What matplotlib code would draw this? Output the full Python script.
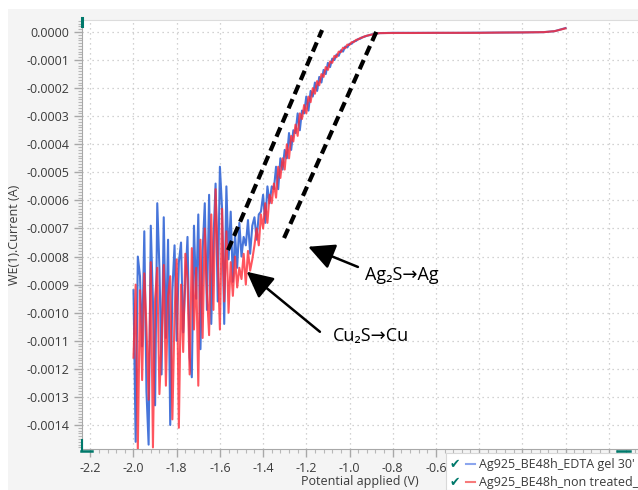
import numpy as np
import matplotlib
matplotlib.use("Agg")
import matplotlib.pyplot as plt
from matplotlib.lines import Line2D
from matplotlib.patches import Rectangle
from matplotlib.ticker import MultipleLocator, FormatStrFormatter, FuncFormatter

plt.rcParams['font.family'] = ['Open Sans', 'DejaVu Sans']
plt.rcParams['axes.unicode_minus'] = False

# Potential (V) at which the current was sampled
potential = [
    -2.00, -1.99, -1.98, -1.97, -1.96, -1.95, -1.94, -1.93, -1.92, -1.91,
    -1.90, -1.89, -1.88, -1.87, -1.86, -1.85, -1.84, -1.83, -1.82, -1.81,
    -1.80, -1.79, -1.78, -1.77, -1.76, -1.75, -1.74, -1.73, -1.72, -1.71,
    -1.70, -1.69, -1.68, -1.67, -1.66, -1.65, -1.64, -1.63, -1.62, -1.61,
    -1.60, -1.59, -1.58, -1.57, -1.56, -1.55, -1.54, -1.53, -1.52, -1.51,
    -1.50, -1.49, -1.48, -1.47, -1.46, -1.45, -1.44, -1.43, -1.42, -1.41,
    -1.40, -1.39, -1.38, -1.37, -1.36, -1.35, -1.34, -1.33, -1.32, -1.31,
    -1.30, -1.29, -1.28, -1.27, -1.26, -1.25, -1.24, -1.23, -1.22, -1.21,
    -1.20, -1.19, -1.18, -1.17, -1.16, -1.15, -1.14, -1.13, -1.12, -1.11,
    -1.10, -1.09, -1.08, -1.07, -1.06, -1.05, -1.04, -1.03, -1.02, -1.01,
    -1.00, -0.99, -0.98, -0.97, -0.96, -0.95, -0.94, -0.93, -0.92, -0.91,
    -0.90, -0.89, -0.88, -0.87, -0.86,
    -0.80, -0.70, -0.60, -0.50, -0.40, -0.30, -0.20, -0.10, -0.05, 0.00,
]

# Current in units of 1e-4 A
current_edta = [
    -9.2, -14.6, -8.0, -8.7, -11.2, -7.1, -12.8, -14.7, -6.9, -9.6,
    -13.3, -6.1, -8.4, -12.2, -6.6, -10.9, -7.4, -14.0, -9.2, -7.6,
    -11.0, -8.2, -7.5, -10.7, -8.9, -7.3, -11.6, -12.3, -6.9, -9.5,
    -6.5, -11.3, -7.8, -6.1, -9.9, -5.8, -10.4, -7.4, -5.4, -9.6,
    -4.8, -6.3, -10.4, -5.5, -8.1, -6.4, -8.9, -7.2, -8.4, -6.8,
    -8.0, -7.3, -7.6, -6.7, -7.9, -6.9, -6.6, -7.4, -6.5, -6.4,
    -5.8, -6.8, -5.5, -6.1, -5.5, -5.6, -4.8, -5.6, -4.5, -4.9,
    -4.2, -4.5, -3.6, -4.2, -3.5, -3.6, -2.9, -3.5, -2.8, -2.9,
    -2.3, -2.8, -2.1, -2.3, -1.8, -2.1, -1.6, -1.8, -1.35, -1.5,
    -1.1, -1.25, -0.95, -1.0, -0.8, -0.85, -0.65, -0.7, -0.52, -0.55,
    -0.42, -0.42, -0.33, -0.32, -0.25, -0.24, -0.18, -0.17, -0.13, -0.12,
    -0.09, -0.08, -0.06, -0.05, -0.04,
    -0.03, -0.03, -0.03, -0.03, -0.025, -0.02, -0.015, -0.005, 0.03, 0.14,
]

current_non_treated = [
    -11.6, -9.0, -14.9, -9.2, -12.4, -8.6, -10.5, -13.1, -8.2, -14.8,
    -9.5, -8.4, -12.9, -11.0, -8.3, -12.6, -9.4, -8.7, -13.8, -10.1,
    -8.1, -14.1, -9.0, -11.4, -7.9, -8.8, -12.2, -7.7, -10.6, -8.4,
    -12.6, -7.4, -10.9, -7.0, -9.3, -10.8, -6.5, -9.9, -5.6, -8.0,
    -10.6, -6.3, -9.6, -7.1, -10.0, -8.2, -9.4, -8.0, -9.1, -8.4,
    -8.8, -7.9, -9.0, -7.8, -8.5, -8.1, -7.6, -7.0, -7.6, -6.5,
    -7.0, -6.1, -6.8, -5.8, -6.1, -5.4, -5.9, -4.8, -5.2, -4.5,
    -4.9, -4.0, -4.5, -3.7, -3.9, -3.3, -3.7, -2.9, -3.1, -2.6,
    -2.9, -2.3, -2.5, -2.0, -2.2, -1.75, -1.9, -1.5, -1.6, -1.25,
    -1.35, -1.05, -1.1, -0.85, -0.9, -0.7, -0.72, -0.56, -0.58, -0.45,
    -0.46, -0.36, -0.36, -0.28, -0.27, -0.21, -0.2, -0.15, -0.14, -0.11,
    -0.1, -0.08, -0.07, -0.05, -0.04,
    -0.035, -0.035, -0.03, -0.03, -0.03, -0.02, -0.015, -0.005, 0.03, 0.13,
]

series_labels = ["Ag925_BE48h_EDTA gel 30'", "Ag925_BE48h_non treated_"]

# guide lines (V, A)
guide_1 = ([-1.5625, -1.127], [-7.77e-4, 0.07e-4])
guide_2 = ([-1.303, -0.868], [-7.34e-4, 0.14e-4])

x = np.array(potential)
y_edta = np.array(current_edta) * 1e-4
y_non = np.array(current_non_treated) * 1e-4

fig = plt.figure(figsize=(6.38, 4.90), dpi=100, facecolor='white')
fig.add_artist(Rectangle((8 / 638, 0), 1, (490 - 9) / 490, transform=fig.transFigure,
                         facecolor='#f4f4f4', edgecolor='none', zorder=-10))

ax = fig.add_axes([82 / 638, 41 / 490, 1 - 82 / 638, (449 - 20) / 490])
ax.set_facecolor('white')

ax.plot(x, y_edta, color='#3366d6', lw=1.5, alpha=0.9, zorder=3)
ax.plot(x, y_non, color='#ff2a36', lw=1.5, alpha=0.8, zorder=4)

ax.plot(*guide_1, color='black', lw=3, linestyle=(0, (2.4, 1.3)), zorder=5)
ax.plot(*guide_2, color='black', lw=3, linestyle=(0, (2.4, 1.3)), zorder=5)

arrow = dict(arrowstyle='-|>,head_length=0.8,head_width=0.4', lw=1.8,
             color='black', mutation_scale=20, shrinkA=0, shrinkB=0)
ax.annotate('', xy=(-1.191, -7.65e-4), xytext=(-0.961, -8.37e-4), arrowprops=arrow, zorder=6)
ax.annotate('', xy=(-1.476, -8.54e-4), xytext=(-1.137, -1.068e-3), arrowprops=arrow, zorder=6)
ax.text(-0.928, -8.66e-4, 'Ag₂S→Ag', fontsize=13, va='center', ha='left', color='black')
ax.text(-1.076, -1.083e-3, 'Cu₂S→Cu', fontsize=13, va='center', ha='left', color='black')

ax.set_xlim(-2.0 - 51.5 / 216, -2.0 + (638 - 133.5) / 216)
ax.set_ylim(-(449 - 32) / 280.7 * 1e-3, (32 - 20) / 280.7 * 1e-3)

ax.xaxis.set_major_locator(MultipleLocator(0.2))
ax.xaxis.set_minor_locator(MultipleLocator(0.04))
ax.yaxis.set_major_locator(MultipleLocator(0.0001))
ax.yaxis.set_minor_locator(MultipleLocator(0.00001))
# labels to the right of -0.6 sit under the legend panel
ax.xaxis.set_major_formatter(FuncFormatter(lambda v, p: f'{v:.1f}' if v < -0.5 else ''))
ax.yaxis.set_major_formatter(FormatStrFormatter('%.4f'))

ax.tick_params(which='major', length=6, width=1, color='#a8a8a8', labelsize=9,
               labelcolor='#3a3a3a', pad=3)
ax.tick_params(which='minor', length=3, width=0.8, color='#b8b8b8')
ax.grid(True, which='major', linestyle=(0, (1, 3)), color='#c4c4c4', lw=0.9)

ax.spines['right'].set_visible(False)
ax.spines['top'].set_color('#dcdcdc')
ax.spines['left'].set_color('#a8a8a8')
ax.spines['bottom'].set_color('#a8a8a8')

ax.set_xlabel('Potential applied (V)', fontsize=9, color='#3a3a3a', labelpad=0)
ax.set_ylabel('WE(1).Current (A)', fontsize=9, color='#3a3a3a', labelpad=4)

# range handles on the axes
teal = '#00796b'
def fig_line(xs, ys, lw):
    fig.add_artist(Line2D([v / 638 for v in xs], [1 - v / 490 for v in ys],
                          transform=fig.transFigure, color=teal, lw=lw, zorder=20))
fig_line([81.5, 81.5], [18, 26], 2.2)
fig_line([81.5, 81.5], [440, 451], 1.5)
fig_line([81, 92], [451, 451], 1.8)
fig_line([617, 630], [451, 451], 1.8)

# legend panel
fig.add_artist(Rectangle((446 / 638, 0), 1, (490 - 453) / 490, transform=fig.transFigure,
                         facecolor='white', edgecolor='#d8d8d8', lw=0.8, zorder=15))
leg_colors = ['#8ca6ee', '#f77b7b']
for i, (lab, col) in enumerate(zip(series_labels, leg_colors)):
    yy = 1 - (464 + 18 * i) / 490
    fig.text(450 / 638, yy, '✔', color=teal, fontsize=9, va='center', ha='left',
             family=['DejaVu Sans'], zorder=16)
    fig.add_artist(Line2D([466 / 638, 475 / 638], [yy, yy], transform=fig.transFigure,
                          color=col, lw=1.5, zorder=16))
    fig.text(479 / 638, yy, lab, color='#3a3a3a', fontsize=9, va='center', ha='left', zorder=16)

fig.savefig('out.png', dpi=100, facecolor=fig.get_facecolor())
